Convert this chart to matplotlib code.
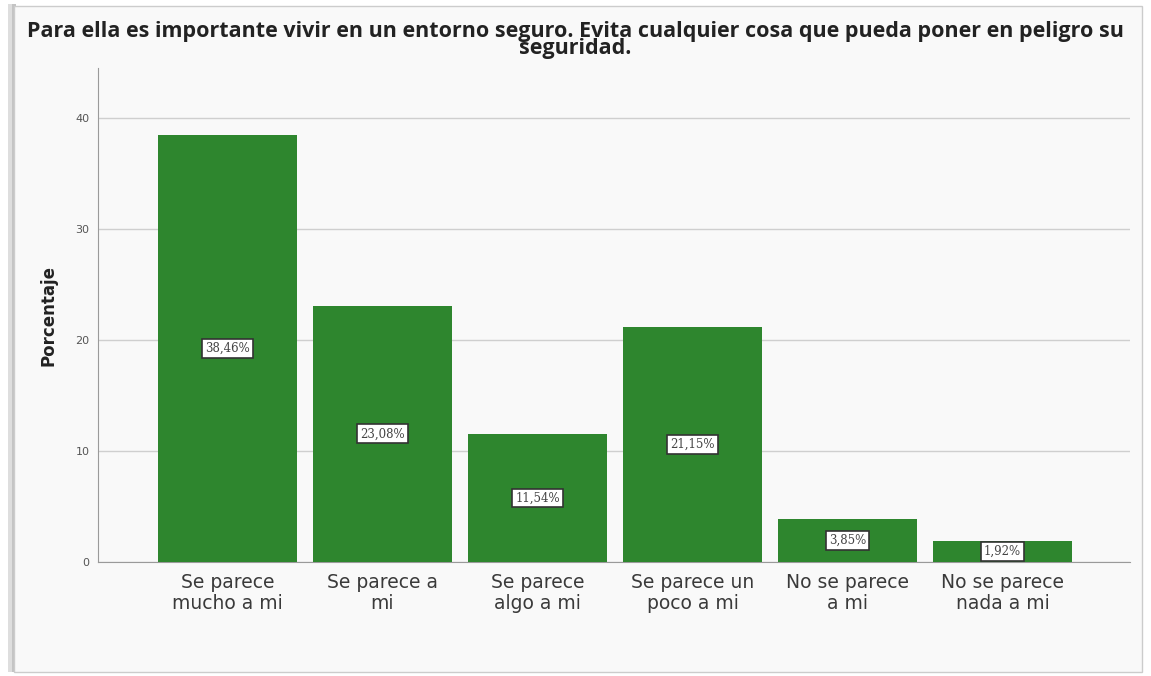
import matplotlib
matplotlib.use("Agg")
import matplotlib.pyplot as plt
from matplotlib.patches import Rectangle

categories = ["Se parece\nmucho a mi", "Se parece a\nmi", "Se parece\nalgo a mi",
              "Se parece un\npoco a mi", "No se parece\na mi", "No se parece\nnada a mi"]
values = [38.46, 23.08, 11.54, 21.15, 3.85, 1.92]
value_labels = ["38,46%", "23,08%", "11,54%", "21,15%", "3,85%", "1,92%"]
yticks = [0, 10, 20, 30, 40]
title = "Para ella es importante vivir en un entorno seguro. Evita cualquier cosa que pueda poner en peligro su\nseguridad."

W, H = 1151, 676
fig = plt.figure(figsize=(W/100, H/100), dpi=100)
fig.patch.set_facecolor("white")

# panel frame with shadow
bg = fig.add_axes([0, 0, 1, 1], zorder=0)
bg.set_xlim(0, W); bg.set_ylim(H, 0); bg.axis("off")
bg.add_patch(Rectangle((8, 4), 5, 668, facecolor="#dedede", edgecolor="none"))
bg.add_patch(Rectangle((12, 4), 4, 668, facecolor="#c4c4c4", edgecolor="none"))
bg.add_patch(Rectangle((14, 6), 1128, 666, facecolor="#f9f9f9", edgecolor="#cccccc", linewidth=1))

ax = fig.add_axes([98/W, (H-562)/H, (1130-98)/W, (562-68)/H], zorder=2)
ax.set_facecolor("#f9f9f9")
x = list(range(len(categories)))
ax.bar(x, values, width=0.9, color="#2e862e", zorder=3)
for xi, v, lab in zip(x, values, value_labels):
    ax.text(xi, v/2, lab, ha="center", va="center", fontsize=8.5, family="DejaVu Serif",
            color="#444444", zorder=4,
            bbox=dict(boxstyle="square,pad=0.25", facecolor="white", edgecolor="#333333", linewidth=1.2))

ax.set_xlim((98-227.5)/155, (1130-227.5)/155)
ax.set_ylim(0, (562-68)/11.1)
ax.set_yticks(yticks)
ax.set_yticklabels([str(t) for t in yticks], fontsize=8, color="#555555")
ax.set_xticks(x)
ax.set_xticklabels(categories, fontsize=13.5, color="#3a3a3a", linespacing=1.1)
ax.tick_params(axis="x", length=0, pad=8)
ax.tick_params(axis="y", length=0, pad=6)
ax.grid(axis="y", color="#cfcfcf", linewidth=1, zorder=1)
for s in ["top", "right"]:
    ax.spines[s].set_visible(False)
ax.spines["left"].set_color("#9a9a9a")
ax.spines["bottom"].set_color("#9a9a9a")
ax.set_ylabel("Porcentaje", fontsize=12, fontweight="bold", color="#222222", labelpad=13)

fig.text(0.5, 1 - 40/H, title, ha="center", va="center", fontsize=15.5, fontweight="bold",
         family="Open Sans", color="#222222", linespacing=0.8)

fig.savefig("out.png", dpi=100)
